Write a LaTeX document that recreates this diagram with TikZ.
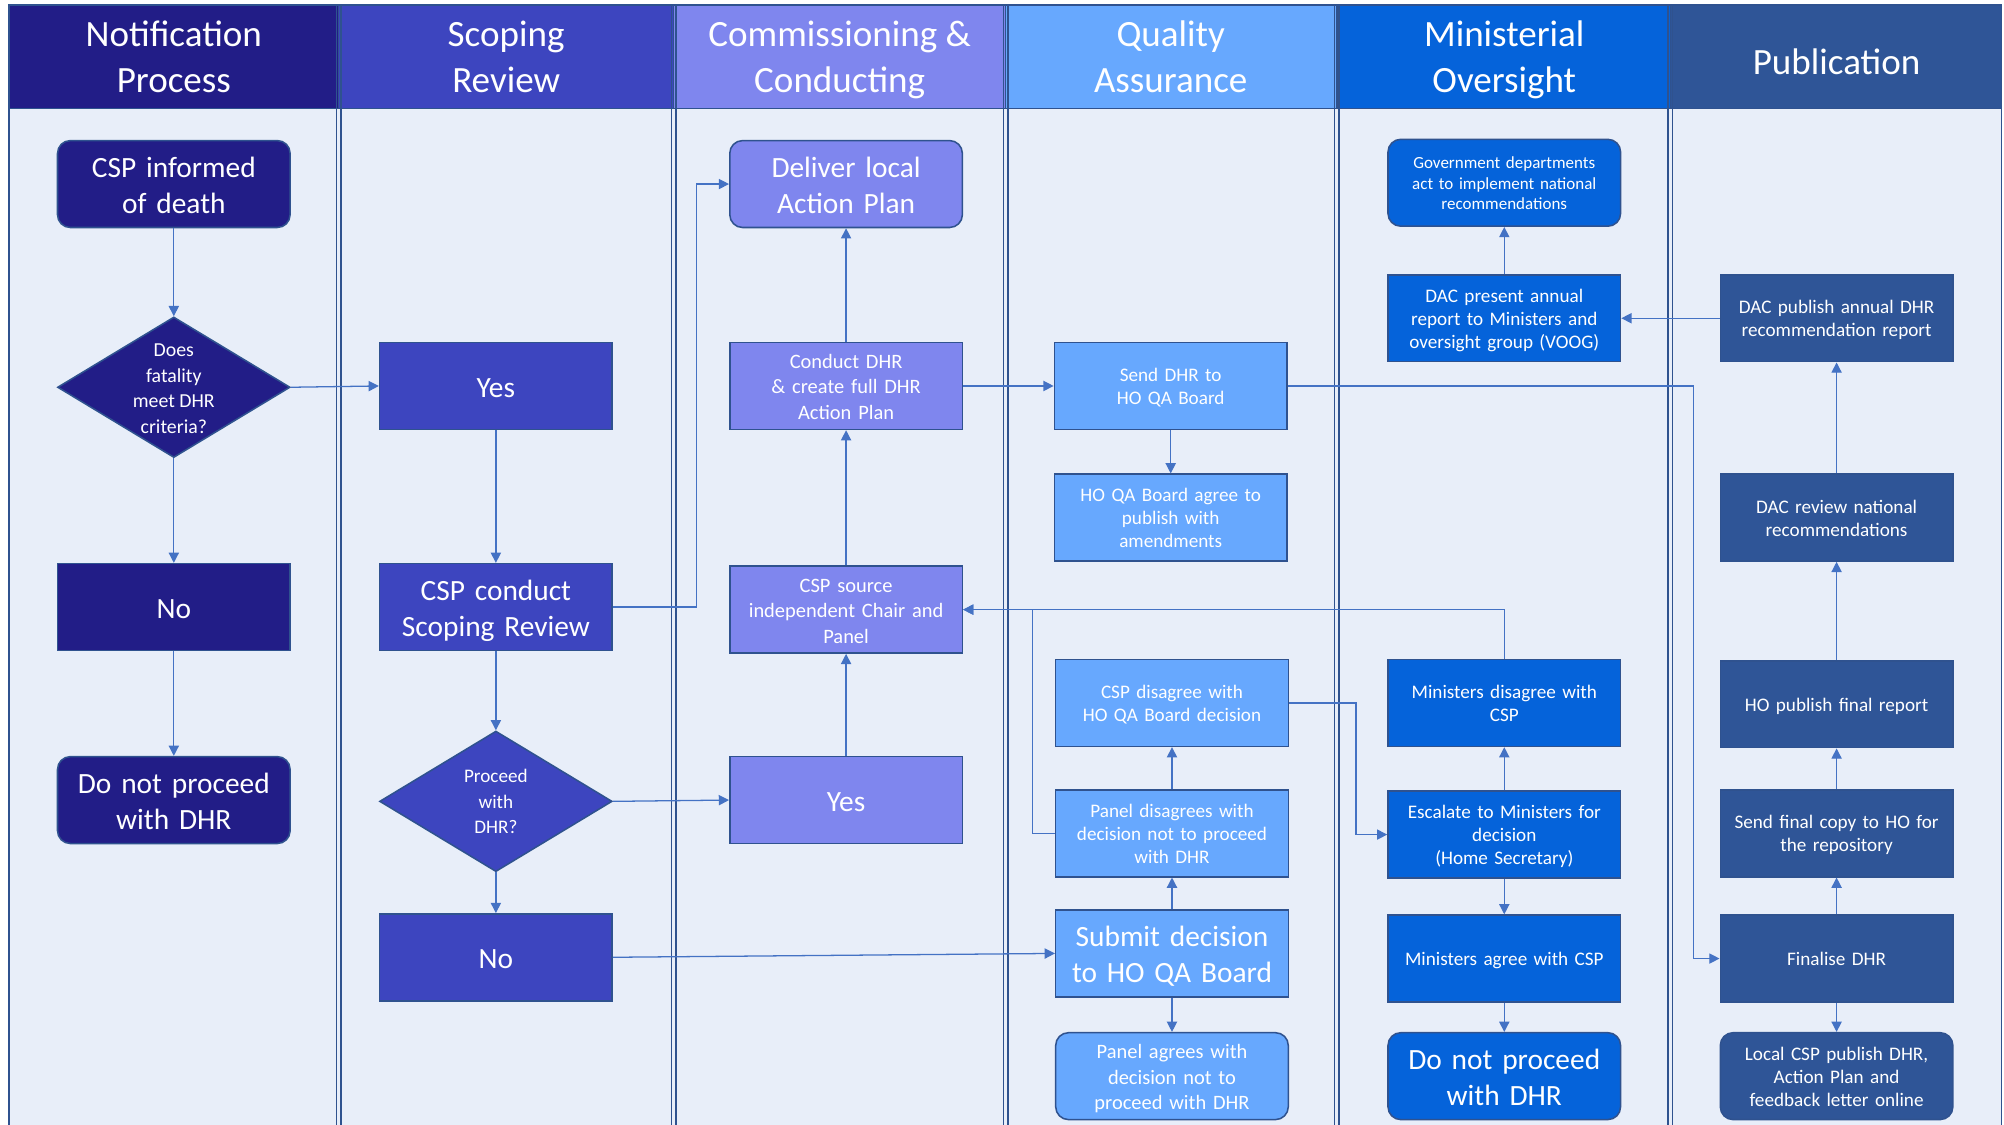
\documentclass[tikz,border=0pt]{standalone}
\usepackage{fontspec}
\setmainfont{Carlito}
\usetikzlibrary{shapes.geometric,arrows.meta}
\definecolor{cA}{HTML}{221D87}
\definecolor{cB}{HTML}{3D45BF}
\definecolor{cC}{HTML}{7F86EE}
\definecolor{cD}{HTML}{67A8FE}
\definecolor{cE}{HTML}{0563DA}
\definecolor{cF}{HTML}{2F5597}
\definecolor{bgc}{HTML}{E8EEF9}
\definecolor{lnc}{HTML}{4472C4}
\definecolor{bord}{HTML}{2F528F}
\newcommand{\mystrut}{\rule[-0.19\baselineskip]{0pt}{\baselineskip}}
\begin{document}
\begin{tikzpicture}[x=1pt,y=-1pt,
  box/.style={draw=bord, line width=1.2pt, minimum width=182pt, minimum height=68pt,
    inner sep=2pt, align=center, text=white, text width=176pt,
    execute at begin node=\mystrut, execute at end node=\mystrut},
  rbox/.style={box, rounded corners=10pt},
  big/.style={font=\fontsize{23}{28}\selectfont},
  mid/.style={font=\fontsize{16}{20}\selectfont},
  small/.style={font=\fontsize{15}{18}\selectfont},
  tiny/.style={font=\fontsize{13.3}{16}\selectfont},
  dia/.style={draw=bord, line width=1.2pt, diamond, minimum width=182pt, minimum height=110pt, inner sep=0pt},
  dtext/.style={align=center, text=white, inner sep=0pt,
    execute at begin node=\mystrut, execute at end node=\mystrut},
  hdr/.style={align=center, text=white, font=\fontsize{29}{36}\selectfont,
    execute at begin node=\mystrut, execute at end node=\mystrut},
  arr/.style={draw=lnc, line width=1pt, -{Triangle[length=8pt,width=8pt]}},
  divl/.style={draw=bord, line width=1.1pt},
]
\useasboundingbox (0,0) rectangle (1568,880);
\fill[white] (0,0) rectangle (1568,880);
% lanes body
\fill[bgc] (7,85) rectangle (1566,882);
% headers
\path[fill=cA, draw=bord, line width=1pt] (7,4) rectangle (265,85);
\path[fill=cB, draw=bord, line width=1pt] (265,4) rectangle (527,85);
\path[fill=cC, draw=bord, line width=1pt] (527,4) rectangle (787,85);
\path[fill=cD, draw=bord, line width=1pt] (787,4) rectangle (1046,85);
\path[fill=cE, draw=bord, line width=1pt] (1046,4) rectangle (1307,85);
\path[fill=cF, draw=bord, line width=1pt] (1307,4) rectangle (1566,85);
\node[hdr] (h1) at (136,48) {Notification\\Process};
\node[hdr] (h2) at (396,48) {Scoping\\Review};
\node[hdr] (h3) at (657,48) {Commissioning \&\\Conducting};
\node[hdr] (h4) at (916,48) {Quality\\Assurance};
\node[hdr] (h5) at (1177,48) {Ministerial\\Oversight};
\node[hdr] (h6) at (1437,47) {Publication};
% borders and dividers
\draw[divl] (7,4) -- (7,882);
\draw[divl, line width=0.8pt] (1566,4) -- (1566,882);
\foreach \xx in {265,527,787,1046,1307}{
  \draw[divl] (\xx-1.8,4) -- (\xx-1.8,882);
  \draw[divl] (\xx+1.8,4) -- (\xx+1.8,882);
}

% Lane 1
\node[rbox, big, fill=cA] (inf) at (136,144) {CSP informed\\of death};
\node[dia, fill=cA] (d1) at (136,303) {};
\node[dtext, font=\fontsize{15.5}{20}\selectfont, yshift=-3pt] (d1t) at (d1.center) {Does\\fatality\\meet DHR\\criteria?};
\node[box, big, fill=cA] (no1) at (136,475) {No};
\node[rbox, big, fill=cA] (dnp1) at (136,626) {Do not proceed\\with DHR};

% Lane 2
\node[box, big, fill=cB] (yes2) at (388,302) {Yes};
\node[box, big, fill=cB] (scope) at (388,475) {CSP conduct\\Scoping Review};
\node[dia, fill=cB] (d2) at (388,627) {};
\node[dtext, font=\fontsize{15}{20}\selectfont, yshift=-2pt] (d2t) at (d2.center) {Proceed\\with\\DHR?};
\node[box, big, fill=cB] (no2) at (388,749) {No};

% Lane 3
\node[rbox, big, fill=cC] (deliver) at (662,144) {Deliver local\\Action Plan};
\node[box, mid, fill=cC] (conduct) at (662,302) {Conduct DHR\\\& create full DHR\\Action Plan};
\node[box, mid, fill=cC] (source) at (662,477) {CSP source\\independent Chair and\\Panel};
\node[box, big, fill=cC] (yes3) at (662,626) {Yes};

% Lane 4
\node[box, small, fill=cD] (send) at (916,302) {Send DHR to\\HO QA Board};
\node[box, small, fill=cD] (agree) at (916,405) {HO QA Board agree to\\publish with\\amendments};
\node[box, small, fill=cD] (cspdis) at (917,550) {CSP disagree with\\HO QA Board decision};
\node[box, small, fill=cD] (pdis) at (917,652) {Panel disagrees with\\decision not to proceed\\with DHR};
\node[box, big, fill=cD] (submit) at (917,746) {Submit decision\\to HO QA Board};
\node[rbox, mid, fill=cD] (pagree) at (917,842) {Panel agrees with\\decision not to\\proceed with DHR};

% Lane 5
\node[rbox, tiny, fill=cE] (gov) at (1177,143) {Government departments\\act to implement national\\recommendations};
\node[box, small, fill=cE] (present) at (1177,249) {DAC present annual\\report to Ministers and\\oversight group (VOOG)};
\node[box, small, fill=cE] (mdis) at (1177,550) {Ministers disagree with\\CSP};
\node[box, small, fill=cE] (esc) at (1177,653) {Escalate to Ministers for\\decision\\(Home Secretary)};
\node[box, small, fill=cE] (magree) at (1177,750) {Ministers agree with CSP};
\node[rbox, big, fill=cE] (dnp5) at (1177,842) {Do not proceed\\with DHR};

% Lane 6
\node[box, small, fill=cF] (pubrep) at (1437,249) {DAC publish annual DHR\\recommendation report};
\node[box, small, fill=cF] (review) at (1437,405) {DAC review national\\recommendations};
\node[box, small, fill=cF] (hopub) at (1437,551) {HO publish final report};
\node[box, small, fill=cF] (sendfin) at (1437,652) {Send final copy to HO for\\the repository};
\node[box, small, fill=cF] (final) at (1437,750) {Finalise DHR};
\node[rbox, small, fill=cF] (local) at (1437,842) {Local CSP publish DHR,\\Action Plan and\\feedback letter online};

% junction coordinates
\coordinate (j1) at (545,0);
\coordinate (j2) at (1325,0);
\coordinate (j3) at (808,0);
\coordinate (j4) at (1061,0);

% connectors
\draw[arr] (inf) -- (d1);
\draw[arr] (d1) -- (no1);
\draw[arr] (no1) -- (dnp1);
\draw[arr] (d1.east) -- (yes2.west);
\draw[arr] (yes2) -- (scope);
\draw[arr] (scope) -- (d2);
\draw[arr] (d2) -- (no2);
\draw[arr] (scope.east) -- (scope.east -| j1) |- (deliver.west);
\draw[arr] (d2.east) -- (yes3.west);
\draw[arr] (yes3) -- (source);
\draw[arr] (source) -- (conduct);
\draw[arr] (conduct) -- (deliver);
\draw[arr] (conduct.east) -- (send.west);
\draw[arr] (send) -- (agree);
\draw[arr] (send.east) -- (send.east -| j2) |- (final.west);
\draw[arr] (no2.east) -- (submit.west);
\draw[arr] (submit) -- (pdis);
\draw[arr] (submit) -- (pagree);
\draw[arr] (pdis) -- (cspdis);
\draw[arr] (pdis.west) -- (pdis.west -| j3) |- (source.east);
\draw[arr] (mdis.north) |- (source.east);
\draw[arr] (cspdis.east) -- (cspdis.east -| j4) |- (esc.west);
\draw[arr] (esc) -- (mdis);
\draw[arr] (esc) -- (magree);
\draw[arr] (magree) -- (dnp5);
\draw[arr] (present) -- (gov);
\draw[arr] (pubrep.west) -- (present.east);
\draw[arr] (review) -- (pubrep);
\draw[arr] (hopub) -- (review);
\draw[arr] (sendfin) -- (hopub);
\draw[arr] (final) -- (sendfin);
\draw[arr] (final) -- (local);
\end{tikzpicture}
\end{document}
